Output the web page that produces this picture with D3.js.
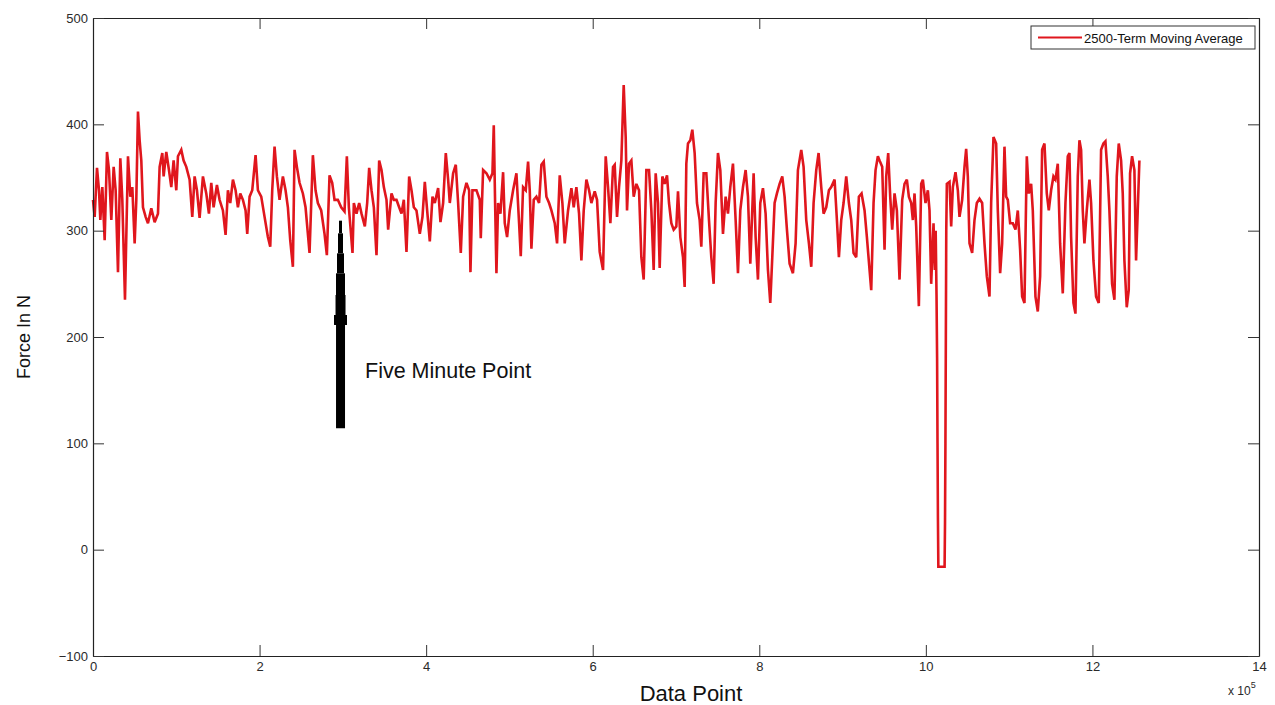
<!DOCTYPE html>
<html>
<head>
<meta charset="utf-8">
<script src="https://cdn.jsdelivr.net/npm/d3@7/dist/d3.min.js"></script>
<style>
  html,body{margin:0;padding:0;background:#fff;}
  svg{display:block;font-family:"Liberation Sans",Arial,sans-serif;}
</style>
</head>
<body>
<svg id="chart" width="1275" height="705"></svg>
<script>
// ---- data (x in units of 10^5 data points, y = force in N) ----
const dataPoint = [
0.000,0.020,0.048,0.072,0.088,0.112,0.140,0.168,0.192,0.220,0.248,0.272,0.300,0.328,0.352,0.384,0.420,0.448,0.472,0.500,
0.520,0.540,0.560,0.580,0.600,0.632,0.660,0.700,0.740,0.780,0.800,0.832,0.848,0.880,0.912,0.940,0.968,1.000,1.020,1.060,
1.088,1.120,1.160,1.192,1.220,1.248,1.280,1.320,1.360,1.392,1.420,1.448,1.488,1.520,1.560,1.592,1.620,1.648,1.680,1.712,
1.740,1.768,1.800,1.832,1.852,1.880,1.912,1.952,1.980,2.020,2.060,2.100,2.128,2.152,2.180,2.208,2.240,2.280,2.312,2.340,
2.368,2.400,2.420,2.448,2.480,2.520,2.552,2.580,2.600,2.640,2.672,2.700,2.740,2.780,2.808,2.840,2.872,2.900,2.940,2.980,
3.020,3.048,3.072,3.116,3.132,3.164,3.196,3.224,3.264,3.292,3.316,3.344,3.372,3.404,3.436,3.464,3.492,3.524,3.544,3.584,
3.612,3.644,3.676,3.704,3.732,3.764,3.796,3.824,3.852,3.884,3.924,3.956,3.984,4.012,4.044,4.076,4.104,4.144,4.172,4.204,
4.236,4.264,4.284,4.324,4.356,4.384,4.416,4.444,4.484,4.516,4.532,4.556,4.604,4.644,4.656,4.684,4.724,4.764,4.796,4.812,
4.828,4.844,4.864,4.892,4.924,4.944,4.972,5.004,5.044,5.084,5.116,5.136,5.164,5.196,5.224,5.244,5.264,5.292,5.324,5.356,
5.384,5.412,5.444,5.476,5.504,5.544,5.572,5.604,5.636,5.664,5.704,5.744,5.772,5.804,5.836,5.864,5.892,5.924,5.956,5.984,
6.024,6.052,6.084,6.124,6.156,6.184,6.212,6.244,6.264,6.292,6.316,6.344,6.372,6.396,6.412,6.436,6.464,6.492,6.524,6.556,
6.584,6.612,6.644,6.676,6.704,6.732,6.756,6.784,6.804,6.836,6.864,6.892,6.916,6.944,6.972,7.004,7.024,7.052,7.084,7.104,
7.124,7.144,7.172,7.196,7.224,7.252,7.284,7.304,7.332,7.364,7.396,7.424,7.452,7.476,7.504,7.532,7.564,7.596,7.624,7.652,
7.684,7.716,7.744,7.772,7.804,7.836,7.864,7.892,7.932,7.956,7.984,8.012,8.044,8.076,8.104,8.132,8.156,8.184,8.212,8.244,
8.276,8.304,8.332,8.364,8.404,8.436,8.464,8.504,8.532,8.564,8.596,8.624,8.652,8.684,8.712,8.744,8.772,8.804,8.836,8.864,
8.904,8.932,8.956,8.984,9.012,9.044,9.076,9.104,9.132,9.164,9.196,9.228,9.264,9.292,9.324,9.344,9.372,9.396,9.424,9.444,
9.476,9.504,9.524,9.548,9.572,9.596,9.624,9.652,9.684,9.716,9.744,9.772,9.796,9.824,9.844,9.864,9.884,9.916,9.944,9.964,
9.996,10.024,10.044,10.064,10.092,10.108,10.118,10.128,10.135,10.140,10.145,10.150,10.225,10.230,10.235,10.240,10.245,10.252,10.284,10.304,
10.324,10.356,10.384,10.404,10.436,10.464,10.484,10.504,10.524,10.556,10.584,10.612,10.644,10.676,10.704,10.732,10.764,10.784,10.812,10.844,
10.864,10.892,10.916,10.944,10.964,10.984,11.012,11.044,11.076,11.104,11.132,11.156,11.184,11.212,11.236,11.264,11.284,11.316,11.344,11.372,
11.396,11.424,11.452,11.476,11.504,11.532,11.556,11.584,11.612,11.644,11.676,11.704,11.724,11.744,11.772,11.796,11.824,11.844,11.864,11.884,
11.904,11.932,11.964,11.984,12.012,12.044,12.076,12.104,12.132,12.156,12.184,12.204,12.236,12.264,12.292,12.316,12.344,12.364,12.384,12.412,
12.436,12.452,12.476,12.504,12.524,12.544,12.564
];
const force = [
329,313,359,338,310,341,291,374,357,310,360,338,261,368,329,235,370,332,341,288,
329,412,385,366,322,313,307,321,308,316,360,373,351,374,357,341,366,338,370,376,
366,360,348,313,351,338,312,351,335,316,345,322,343,329,319,296,338,326,348,338,
322,335,329,319,297,332,338,371,338,332,313,294,285,338,379,351,329,351,338,322,
291,266,376,360,345,335,322,297,279,371,338,326,319,297,277,352,345,329,329,322,
318,370,322,279,326,316,326,316,304,326,359,338,322,277,366,357,341,329,301,335,
329,329,322,316,329,280,351,338,322,319,297,313,346,319,290,332,326,340,308,326,
373,348,326,354,362,326,279,332,345,338,261,338,338,329,293,357,354,348,354,399,
326,260,326,316,355,307,294,319,338,354,307,276,341,338,365,338,283,329,332,326,
362,365,332,326,319,307,288,352,326,288,319,340,322,341,316,272,319,348,338,326,
337,329,280,263,370,341,307,360,362,313,341,366,437,388,319,363,366,332,344,338,
275,254,357,357,319,263,354,326,265,351,344,352,326,307,301,304,337,294,275,247,
363,382,385,395,373,326,310,285,354,354,310,275,250,326,373,357,297,332,316,341,
363,310,260,319,341,357,332,269,354,294,254,326,340,316,263,232,275,326,335,344,
351,332,301,269,260,288,357,376,360,310,288,266,326,357,373,341,316,322,338,341,
348,310,275,310,326,351,326,310,279,275,332,335,319,294,263,244,326,357,370,366,
360,282,351,373,332,301,335,319,254,329,344,348,332,326,310,335,304,229,344,348,
326,338,319,250,307,263,300,240,180,100,30,-16,-16,25,100,200,300,344,346,304,
341,355,338,313,329,360,377,351,288,279,310,326,330,326,288,257,238,326,388,382,
319,260,288,379,332,329,307,307,301,319,282,238,232,370,335,344,319,238,224,257,
376,382,335,319,338,351,348,363,288,241,326,370,373,294,232,222,351,385,376,319,
288,319,348,326,272,238,232,376,382,384,351,319,250,235,351,382,366,335,272,228,
244,354,370,357,272,319,366
];
// "Five Minute Point" marker: position (10^5 points) and force levels along it
const markerX = 2.972;
const markerLevels = [309.4,297.5,278.7,259.9,239.5,220.7,211.3,114.1];
const xTicks = [0,2,4,6,8,10,12,14];
const yTicks = [-100,0,100,200,300,400,500];
const seriesName = "2500-Term Moving Average";
const annotation = "Five Minute Point";

// ---- drawing ----
const svg = d3.select("#chart");
const L = 93, R = 1259, T = 18, B = 656;
const x = d3.scaleLinear().domain([0,14]).range([L,R]);
const y = d3.scaleLinear().domain([-100,500]).range([B,T]);
const red = "#e0161d";

// series line
const pts = dataPoint.map((d,i)=>[d, force[i]]);
const line = d3.line().x(d=>x(d[0])).y(d=>y(d[1]));
svg.append("path").datum(pts)
  .attr("d", line)
  .attr("fill","none")
  .attr("stroke", red)
  .attr("stroke-width", 2.6)
  .attr("stroke-linejoin","miter")
  .attr("stroke-miterlimit", 3);

// marker: stacked segments, thinner toward the top
const markerWidths = [3,5,7,9,10,13,9];
const segs = d3.pairs(markerLevels);
svg.append("g").selectAll("line").data(segs).join("line")
  .attr("x1", x(markerX)).attr("x2", x(markerX))
  .attr("y1", d=>y(d[0])).attr("y2", d=>y(d[1]))
  .attr("stroke","#000")
  .attr("stroke-width",(d,i)=>markerWidths[i]);

svg.append("text")
  .attr("x", 365).attr("y", 378)
  .attr("font-size", 21.5)
  .attr("fill","#111")
  .text(annotation);

// axes
const fmt = d3.format("d");
const axB = svg.append("g").attr("transform",`translate(0,${B})`)
  .call(d3.axisBottom(x).tickValues(xTicks).tickFormat(fmt).tickSize(-11).tickSizeOuter(0).tickPadding(6));
const axT = svg.append("g").attr("transform",`translate(0,${T})`)
  .call(d3.axisTop(x).tickValues(xTicks).tickFormat("").tickSize(-11).tickSizeOuter(0));
const axL = svg.append("g").attr("transform",`translate(${L},0)`)
  .call(d3.axisLeft(y).tickValues(yTicks).tickFormat(fmt).tickSize(-11).tickSizeOuter(0).tickPadding(5));
const axR = svg.append("g").attr("transform",`translate(${R},0)`)
  .call(d3.axisRight(y).tickValues(yTicks).tickFormat("").tickSize(-11).tickSizeOuter(0));
[axB,axT,axL,axR].forEach(g=>{
  g.selectAll("path.domain").attr("stroke","#222").attr("stroke-width",1.2);
  g.selectAll(".tick line").attr("stroke","#333").attr("stroke-width",1);
  g.selectAll("text").attr("font-size",13).attr("fill","#2a2a2a")
    .attr("font-family",'"Liberation Sans",Arial,sans-serif');
});

// exponent label
const ex = svg.append("text").attr("x",1228).attr("y",695).attr("font-size",12).attr("fill","#2a2a2a");
ex.append("tspan").text("x 10");
ex.append("tspan").attr("dy",-7).attr("font-size",9).text("5");

// axis titles
svg.append("text").attr("x", 691).attr("y", 701)
  .attr("text-anchor","middle").attr("font-size",22).attr("fill","#111")
  .text("Data Point");
svg.append("text").attr("transform",`translate(30,${(T+B)/2}) rotate(-90)`)
  .attr("text-anchor","middle").attr("font-size",18).attr("fill","#111")
  .text("Force In N");

// legend
const lg = svg.append("g");
lg.append("rect").attr("x",1031).attr("y",26).attr("width",224).attr("height",23)
  .attr("fill","#fff").attr("stroke","#333").attr("stroke-width",1);
lg.append("line").attr("x1",1038).attr("x2",1082).attr("y1",37.5).attr("y2",37.5)
  .attr("stroke",red).attr("stroke-width",2);
lg.append("text").attr("x",1084).attr("y",42.5).attr("font-size",13).attr("fill","#111")
  .text(seriesName);
</script>
</body>
</html>
